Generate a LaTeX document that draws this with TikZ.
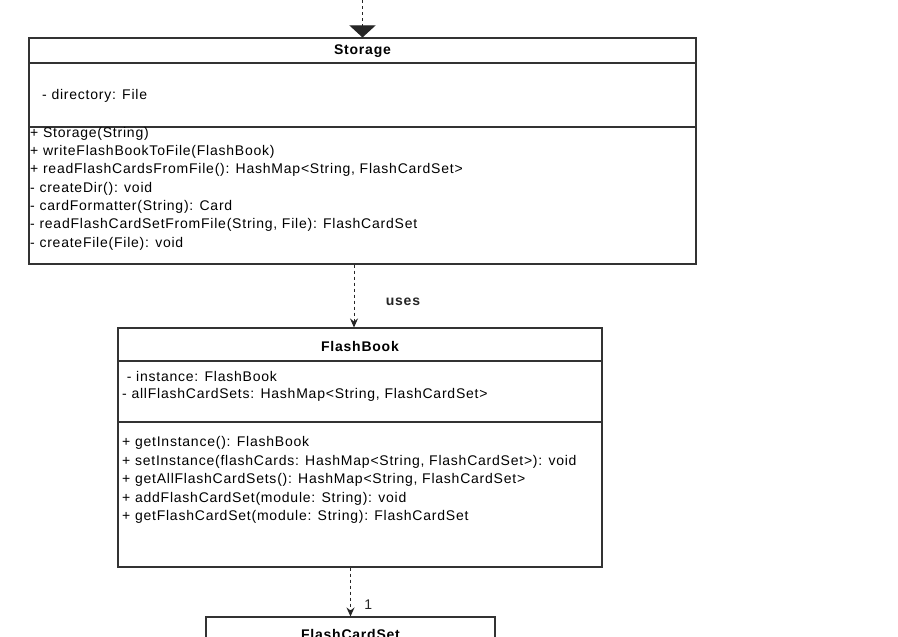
\documentclass[tikz,border=0pt]{standalone}
\usepackage{fontspec}
\setmainfont{Liberation Sans}[LetterSpace=5.5]
\usetikzlibrary{arrows.meta}
\tikzset{
  clase/.style={draw=black!80, line width=1.1pt, fill=white, inner sep=0pt},
  titulo/.style={font=\fontsize{14}{16}\selectfont\bfseries, inner sep=0pt},
  texto/.style={font=\fontsize{14}{18.3}\selectfont, align=left, anchor=west, inner sep=0pt},
  dep/.style={black!85, line width=1pt, dash pattern=on 3pt off 3pt},
}
\begin{document}
\begin{tikzpicture}[x=1pt,y=-1pt]
    \clip (0,0) rectangle (898,637);
    \fill[white] (0,0) rectangle (898,637);
    % Storage
    \node[clase, minimum width=667, minimum height=226] (storage) at (362.5,151) {};
    \draw[black!80, line width=1.1pt] (storage.west |- 0,63) -- (storage.east |- 0,63);
    \draw[black!80, line width=1.1pt] (storage.west |- 0,127) -- (storage.east |- 0,127);
    \node[titulo] (storagetit) at (362.5,51) {Storage};
    \node[texto] (storageatr) at (42,96) {- directory: File};
    \node[texto] (storagemet) at (30,188.5) {+ Storage(String)\\
        + writeFlashBookToFile(FlashBook)\\
        + readFlashCardsFromFile(): HashMap<String, FlashCardSet>\\
        - createDir(): void\\
        - cardFormatter(String): Card\\
        - readFlashCardSetFromFile(String, File): FlashCardSet\\
        - createFile(File): void};
    % FlashBook
    \node[clase, minimum width=484, minimum height=239] (flashbook) at (360,447.5) {};
    \draw[black!80, line width=1.1pt] (flashbook.west |- 0,361) -- (flashbook.east |- 0,361);
    \draw[black!80, line width=1.1pt] (flashbook.west |- 0,422) -- (flashbook.east |- 0,422);
    \node[titulo] (flashbooktit) at (360,346) {FlashBook};
    \node[texto, font=\fontsize{14}{17}\selectfont] (flashbookatr) at (122,386.5) {\ - instance: FlashBook\\
        - allFlashCardSets: HashMap<String, FlashCardSet>};
    \node[texto, font=\fontsize{14}{18.5}\selectfont] (flashbookmet) at (122,480) {+ getInstance(): FlashBook\\
        + setInstance(flashCards: HashMap<String, FlashCardSet>): void\\
        + getAllFlashCardSets(): HashMap<String, FlashCardSet>\\
        + addFlashCardSet(module: String): void\\
        + getFlashCardSet(module: String): FlashCardSet};
    % FlashCardSet
    \node[clase, minimum width=289, minimum height=120] (flashcardset) at (350.5,677) {};
    \node[titulo] (flashcardsettit) at (350.5,634) {FlashCardSet};
    % Flechas
    \coordinate (arriba) at (362.5,0);
    \coordinate (usesx) at (354,0);
    \draw[dep, -{Triangle[width=26pt,length=12pt]}] (arriba) -- (storage.north);
    \draw[dep, -{Stealth[width=8pt,length=9pt,inset=3pt]}] (storage.south -| usesx) -- (flashbook.north -| usesx)
        node[pos=0.6, right=28pt, font=\fontsize{14}{16}\selectfont\bfseries] (uses) {uses};
    \draw[dep, -{Stealth[width=8pt,length=9pt,inset=3pt]}] (flashbook.south -| flashcardset.north) -- (flashcardset.north)
        node[pos=0.75, right=10pt, font=\fontsize{14}{16}\selectfont] (uno) {1};
\end{tikzpicture}
\end{document}
